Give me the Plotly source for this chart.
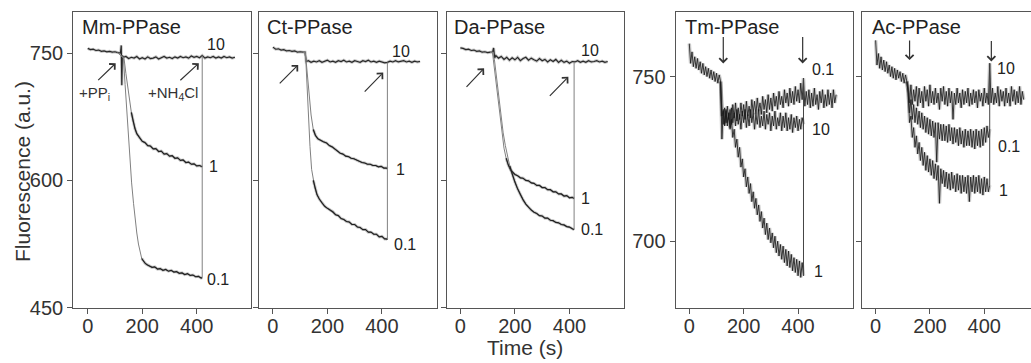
import plotly.graph_objects as go

# ---------------- data (time in s, fluorescence in a.u.) ----------------
# Mm-PPase
mm_base_t = list(range(0, 120, 10))
mm_base = [755.5, 754, 754.5, 753, 753.5, 752, 752.5, 751.5, 752, 751, 751.5, 750.5]
mm_t10 = [120, 123, 125, 127, 130] + list(range(140, 550, 10))
mm_10 = [750, 759, 712, 747, 745,
         746, 743.5, 745, 744, 746, 743, 744.5, 743, 745.5, 743.5,
         744, 745.5, 743, 744.5, 746, 744, 745, 743.5, 745.5, 744,
         746, 744.5, 745.5, 744, 746.5, 745, 746, 744.5, 747, 744,
         745.5, 744.5, 746, 744, 745.5, 744, 746, 744.5, 745.5, 744, 745]
mm_t1 = [127, 133, 140, 147, 154, 160, 166, 173, 180, 190, 200] + list(range(210, 420, 10)) + [420]
mm_1 = [746, 744, 726, 708, 692, 680, 670, 661, 655, 650, 646,
        644.5, 641, 640.5, 637, 637.5, 634, 634.5, 631, 631.5, 628.5,
        629, 626, 626.5, 623.5, 624, 621, 621.5, 619, 619.5, 617, 617.5, 616]
mm_t01 = [127, 131, 137, 143, 149, 155, 161, 168, 174, 180, 186, 192, 198, 204, 210, 216] + list(range(226, 420, 10)) + [420]
mm_01 = [746, 744, 713, 683, 652, 624, 597, 573, 554, 538, 525, 514, 508, 505, 502.5, 501,
         499, 497.5, 498, 495.5, 496, 494, 495, 493, 494, 492,
         492.5, 490.5, 491, 489, 490, 488, 488.5, 486.5, 487, 485, 485.5]

# Ct-PPase
ct_base_t = list(range(0, 120, 10))
ct_base = [757, 754.5, 755, 753.5, 754, 752.5, 753, 752, 752.5, 751, 751.5, 751]
ct_t10 = [118, 122] + list(range(130, 550, 10))
ct_10 = [751, 740,
         741, 739, 740.5, 739.5, 741, 739, 740, 741.5, 739.5, 740.5,
         739, 741, 740, 741.5, 739.5, 740.5, 739, 741, 740, 739,
         741, 740, 741.5, 739.5, 740.5, 739, 740.5, 739.5, 738.5, 739,
         740.5, 739.5, 741, 739.5, 740, 741, 739.5, 740.5, 739, 740.5, 739.5, 740]
ct_t1 = [118, 122, 128, 134, 140, 148, 156, 165, 175, 185, 197] + list(range(207, 420, 10)) + [420]
ct_1 = [751, 740, 720, 695, 677, 660, 653, 649, 647, 645.5, 644,
        641, 639.5, 637, 635.5, 632, 631, 628.5, 628, 626, 625.5, 623.5,
        622.5, 621, 620.5, 619, 619, 617.5, 617.5, 616, 616.5, 614.5, 614.5, 613.5]
ct_t01 = [118, 121, 126, 131, 136, 142, 148, 154, 162, 170, 179, 190, 200, 210] + list(range(220, 420, 10)) + [417, 420]
ct_01 = [751, 740, 705, 670, 640, 613, 600, 591, 583, 578, 573.5, 569.5, 567, 565,
         563, 559.5, 558.5, 555, 554, 551.5, 551, 548, 548, 545,
         544.5, 542, 542, 539, 539, 536.5, 536.5, 533.5, 534, 531, 531, 530]

# Da-PPase
da_base_t = list(range(0, 120, 10))
da_base = [756, 755.5, 754, 754.5, 753, 753.5, 752, 752.5, 751, 751.5, 750.5, 751]
da_t10 = [118, 122, 126, 130] + list(range(140, 550, 10))
da_10 = [751, 756, 744, 747,
         744, 746, 742.5, 745, 741.5, 744.5, 742, 745, 741, 743.5,
         745, 741.5, 744, 742, 740.5, 743.5, 741, 742.5, 739.5, 742,
         740, 742.5, 739, 741.5, 739, 740.5, 738, 740,
         739.5, 741, 739, 740.5, 739, 741, 739.5, 740, 741, 739.5, 740.5, 739, 740]
da_t1 = [118, 121, 128, 136, 144, 152, 160, 168, 176, 185, 193, 200] + list(range(210, 420, 10)) + [417]
da_1 = [751, 742, 722, 699, 676, 655, 638, 626, 618, 612, 609, 607,
        605.5, 603, 602.5, 600, 599.5, 597, 596.5, 594, 594, 591.5,
        591.5, 589, 589, 586.5, 586.5, 584, 584, 581.5, 582, 579.5, 580, 578.5]
da_t01 = [118, 125, 133, 141, 149, 157, 165, 173, 181, 190, 200, 210, 220, 230, 240, 250, 260, 270] + list(range(280, 420, 10)) + [417]
da_01 = [751, 742, 720, 697, 675, 656, 641, 628, 617, 607, 598, 590, 583, 577, 572, 568, 565, 562.5,
         561, 558.5, 558, 555.5, 555.5, 553, 552.5, 550.5, 550, 548, 547.5, 545.5, 545, 543, 542]

# Tm-PPase
tm_base_t = list(range(0, 120, 5))
tm_base = [760, 754, 757.5, 753, 756, 752.5, 755.5, 752, 754.5, 751, 754, 750.5,
           753, 750, 752.5, 749.5, 752, 749, 751.5, 748.5, 751, 748, 750.5, 748.5]
tm_t01 = list(range(120, 545, 5))
tm_01 = [739, 735.5, 740.5, 736, 741, 737, 740, 735.5, 741.5, 737.5,
         742, 736.5, 740.5, 737, 742, 738, 741.5, 737, 742.5, 738,
         741, 737.5, 743, 739, 742.5, 738.5, 743.5, 739.5, 742, 738.5,
         744, 740, 743, 739, 744.5, 740, 743.5, 739.5, 745, 741,
         744, 740, 745.5, 741.5, 744, 740.5, 746, 742, 745, 741,
         746.5, 742, 745.5, 741.5, 747, 742.5, 746, 742, 748, 743,
         749.5, 741, 745.5, 741.5, 746, 740.5, 745, 741, 746.5, 741.5,
         744.5, 740, 745.5, 742, 746, 740.5, 744.5, 741, 746, 741.5,
         745, 740.5, 746, 742, 744.5]
tm_t = list(range(120, 425, 5))
tm_10 = [731, 739.5, 735, 740, 736, 739, 734.5, 740.5, 736, 739,
         735, 740, 735.5, 738.5, 734, 739.5, 736, 740, 734.5, 738.5,
         735, 740, 736, 739, 734, 738.5, 735.5, 740, 734.5, 738,
         735, 739.5, 734, 738.5, 735.5, 739, 733.5, 738, 735, 739.5,
         734, 737.5, 735, 739, 733.5, 738, 734.5, 739, 733.5, 737.5,
         734, 738.5, 733, 737.5, 734.5, 738, 733.5, 737, 734, 737.5,
         735.5]
tm_1 = [738, 740, 735.5, 739.5, 735, 738.5, 734, 737, 731.5, 734,
        728.5, 731, 725.5, 728.5, 722.5, 725, 719.5, 722, 716.5, 719.5,
        714.5, 717.5, 712, 715, 710, 713, 708, 711, 706, 709,
        704, 707, 702, 705.5, 700.5, 704, 699.5, 702.5, 698, 701.5,
        696.5, 700, 695.5, 699, 694.5, 698.5, 693.5, 697.5, 692.5, 697,
        692, 696, 691, 695, 690.5, 694.5, 689.5, 694, 689, 693.5,
        689.5]

# Ac-PPase
ac_base_t = list(range(0, 120, 5))
ac_base = [761, 753.5, 757, 752.5, 756, 752, 755, 751.5, 754.5, 751, 753.5, 750,
           753, 749.5, 752.5, 749, 752, 749.5, 751.5, 748.5, 751, 748, 750.5, 748.5]
ac_t10 = list(range(120, 550, 5))
ac_10 = [747, 742, 747.5, 741.5, 746, 742.5, 747, 741, 746.5, 742,
         745.5, 740.5, 747, 742.5, 746, 741, 747.5, 742, 745.5, 741.5,
         746.5, 742, 745, 740, 746.5, 742.5, 747, 741.5, 745.5, 741,
         746.5, 742, 745.5, 737, 745, 741.5, 746.5, 742, 745, 740.5,
         746, 741.5, 745.5, 742, 746.5, 741, 745, 741.5, 746, 742,
         745.5, 740.5, 746, 742.5, 745, 741, 746.5, 742, 745, 741.5,
         754, 742, 746.5, 741.5, 745, 742, 747, 741, 746, 742.5,
         745.5, 741, 746.5, 742, 745, 741, 747, 742.5, 746, 741.5,
         745.5, 742, 747, 741.5, 745.5, 743]
ac_t = list(range(120, 425, 5))
ac_01 = [745, 739, 743, 737, 741.5, 736, 740.5, 735.5, 739.5, 734.5,
         739, 734, 738, 733, 737.5, 732.5, 737, 732, 736.5, 731.5,
         736, 724, 736, 731, 735.5, 730.5, 735.5, 730.5, 735, 730,
         735.5, 730.5, 734.5, 729.5, 734.5, 730, 734, 729, 734.5, 729.5,
         733.5, 728.5, 734, 729, 733.5, 729, 734, 728.5, 733.5, 728,
         734, 729, 733.5, 728.5, 734, 729, 734.5, 730, 735, 731.5,
         734]
ac_1 = [745, 736, 738, 731.5, 734.5, 728.5, 732, 726.5, 730, 724.5,
        728.5, 723, 727, 721.5, 726, 721, 725, 720, 724.5, 719,
        723.5, 718.5, 723, 711.5, 722, 717.5, 721.5, 716.5, 721, 716,
        720.5, 715.5, 721, 716, 720, 715, 720.5, 715.5, 720, 714.5,
        720, 715, 719.5, 714.5, 720, 712, 719.5, 715, 720, 714.5,
        719.5, 715, 720, 714.5, 719, 714, 719.5, 715, 719, 715,
        717]

panel_titles = ["Mm-PPase", "Ct-PPase", "Da-PPase", "Tm-PPase", "Ac-PPase"]
x_ticks = [0, 200, 400]
y_ticks_big = [450, 600, 750]
y_ticks_small = [700, 750]

# panel content: baseline, continuing trace, traces that end at the NH4Cl addition
panels = [
    dict(base=(mm_base_t, mm_base), cont=(mm_t10, mm_10), ends=[(mm_t1, mm_1), (mm_t01, mm_01)]),
    dict(base=(ct_base_t, ct_base), cont=(ct_t10, ct_10), ends=[(ct_t1, ct_1), (ct_t01, ct_01)]),
    dict(base=(da_base_t, da_base), cont=(da_t10, da_10), ends=[(da_t1, da_1), (da_t01, da_01)]),
    dict(base=(tm_base_t, tm_base), cont=(tm_t01, tm_01), ends=[(tm_t, tm_10), (tm_t, tm_1)]),
    dict(base=(ac_base_t, ac_base), cont=(ac_t10, ac_10), ends=[(ac_t, ac_01), (ac_t, ac_1)]),
]
for p in panels:
    for t, v in [p["base"], p["cont"]] + p["ends"]:
        assert len(t) == len(v), (len(t), len(v))

# style: time after which the fast-falling traces are drawn as dark noisy trace
dark_from = [(160, 198), (148, 148), (168, 181), (0, 0), (0, 0)]

# ---------------- layout geometry ----------------
W, H = 1031, 363
FONT = "Liberation Sans, Arial, Helvetica, sans-serif"
AX = "#555555"
TRACE = "rgba(25,25,25,0.92)"
HALO = "rgba(60,60,60,0.28)"
THIN = "#808080"
xdom_px = [(73.3, 251.0), (259.3, 436.7), (446.7, 624.3), (675.7, 852.7), (862.3, 1031.0)]
x_ranges = [[-53, 599], [-50, 601], [-50, 601], [-50, 601], [-49, 572]]
y_dom = [1 - 307.7 / H, 1 - 11.7 / H]
y_ranges = [[450, 798.7]] * 3 + [[679.8, 769.7]] * 2

fig = go.Figure()
layout = dict(width=W, height=H, margin=dict(l=0, r=0, t=0, b=0, autoexpand=False),
              paper_bgcolor="white", plot_bgcolor="white", showlegend=False,
              font=dict(family=FONT, color="#333333"))


def line(xa, ya, x, y, color, width):
    fig.add_trace(go.Scatter(x=x, y=y, mode="lines", xaxis=xa, yaxis=ya,
                             line=dict(color=color, width=width), hoverinfo="skip"))


def noisy(xa, ya, x, y, lw, halo_w):
    line(xa, ya, x, y, HALO, halo_w)
    line(xa, ya, x, y, TRACE, lw)


for i, p in enumerate(panels, start=1):
    xa = "x" if i == 1 else f"x{i}"
    ya = "y" if i == 1 else f"y{i}"
    small = i >= 4
    lw = 0.9 if small else 1.2
    hw = 3.5 if small else 3.0
    bt, bv = p["base"]
    noisy(xa, ya, bt, bv, lw, hw)
    ct, cv = p["cont"]
    noisy(xa, ya, [bt[-1]] + ct, [bv[-1]] + cv, lw, hw)
    for (et, ev), tdark in zip(p["ends"], dark_from[i - 1]):
        xs, ys = [bt[-1]] + et, [bv[-1]] + ev
        if tdark:
            line(xa, ya, xs, ys, THIN, 1.0)
            xs2 = [t for t in xs if t >= tdark]
            ys2 = [v for t, v in zip(xs, ys) if t >= tdark]
            noisy(xa, ya, xs2, ys2, lw, hw)
        else:
            noisy(xa, ya, xs, ys, lw, hw)
    # jump back after NH4Cl addition
    t_end = p["ends"][0][0][-1]
    low = min(ev[-1] for _, ev in p["ends"])
    k = min(range(len(ct)), key=lambda j: abs(ct[j] - t_end))
    line(xa, ya, [t_end, t_end], [low, cv[k]], THIN if not small else "#444444", 1.0)

    x0, x1 = xdom_px[i - 1]
    layout[f"xaxis{'' if i == 1 else i}"] = dict(
        domain=[x0 / W, x1 / W], range=x_ranges[i - 1], anchor=ya, automargin=False,
        showline=True, mirror=True, linecolor=AX, linewidth=1.3,
        ticks="outside", ticklen=5, tickwidth=1.3, tickcolor=AX,
        tickvals=x_ticks, showgrid=False, zeroline=False, ticklabelstandoff=-5,
        tickfont=dict(size=20, color="#333333", family=FONT))
    layout[f"yaxis{'' if i == 1 else i}"] = dict(
        domain=y_dom, range=y_ranges[i - 1], anchor=xa, automargin=False,
        showline=True, mirror=(i != 5), linecolor=AX, linewidth=1.3,
        ticks="outside", ticklen=5, tickwidth=1.3, tickcolor=AX,
        tickvals=y_ticks_small if small else y_ticks_big,
        showticklabels=(i in (1, 4)), showgrid=False, zeroline=False,
        tickfont=dict(size=20, color="#333333", family=FONT))

ann = []
title_px = [80, 265, 451.7, 683.3, 870]
for name, px in zip(panel_titles, title_px):
    ann.append(dict(text=name, xref="paper", yref="paper", x=px / W, y=1 - 26.7 / H,
                    xanchor="left", yanchor="middle", showarrow=False,
                    font=dict(size=20, color="#222222", family=FONT)))
curve_labels = [
    (1, "10", 432, 759.5), (1, "1", 438, 616.5), (1, "0.1", 432, 483),
    (2, "10", 429, 751.6), (2, "1", 444, 612.6), (2, "0.1", 436, 524.4),
    (3, "10", 435, 752.5), (3, "1", 435, 579), (3, "0.1", 435, 542),
    (4, "0.1", 444, 752), (4, "10", 444, 733.8), (4, "1", 450, 690.9),
    (5, "10", 439, 752.6), (5, "0.1", 444, 728.9), (5, "1", 447, 715.3),
]
for i, txt, t, v in curve_labels:
    ann.append(dict(text=txt, xref="x" if i == 1 else f"x{i}", yref="y" if i == 1 else f"y{i}",
                    x=t, y=v, xanchor="left", yanchor="middle", showarrow=False,
                    font=dict(size=16, color="#222222", family=FONT)))
arrows = [
    (1, 102.6, 738, -19, 18.4), (1, 407.7, 738, -20, 18.4),
    (2, 92.8, 736, -20, 20), (2, 404.8, 727, -20, 20.6),
    (3, 87, 732, -19, 20), (3, 396, 722, -20, 20.6),
    (4, 125, 754, 0, -28), (4, 417, 754, 0, -28),
    (5, 125, 755, 0, -21), (5, 426, 754.6, 0, -22),
]
for i, t, v, dx, dy in arrows:
    ann.append(dict(text="", xref="x" if i == 1 else f"x{i}", yref="y" if i == 1 else f"y{i}",
                    x=t, y=v, ax=dx, ay=dy, showarrow=True, arrowhead=4, arrowsize=1.3,
                    arrowwidth=1.2, arrowcolor="#333333", standoff=0))
ann.append(dict(text="+PP<sub>i</sub>", xref="x", yref="y", x=25.6, y=702, showarrow=False,
                xanchor="center", yanchor="middle", font=dict(size=15, color="#333333", family=FONT)))
ann.append(dict(text="+NH<sub>4</sub>Cl", xref="x", yref="y", x=313.6, y=702, showarrow=False,
                xanchor="center", yanchor="middle", font=dict(size=15, color="#333333", family=FONT)))
ann.append(dict(text="Fluorescence (a.u.)", xref="paper", yref="paper", x=22.5 / W, y=1 - 171.5 / H,
                textangle=-90, showarrow=False, xanchor="center", yanchor="middle",
                font=dict(size=21, color="#333333", family=FONT)))
ann.append(dict(text="Time (s)", xref="paper", yref="paper", x=525 / W, y=1 - 347 / H,
                showarrow=False, xanchor="center", yanchor="middle",
                font=dict(size=21, color="#333333", family=FONT)))
layout["annotations"] = ann
fig.update_layout(**layout)

fig.write_html("out.html", config={"displayModeBar": False},
               post_script="document.body.style.margin='0';document.body.style.overflow='hidden';")
